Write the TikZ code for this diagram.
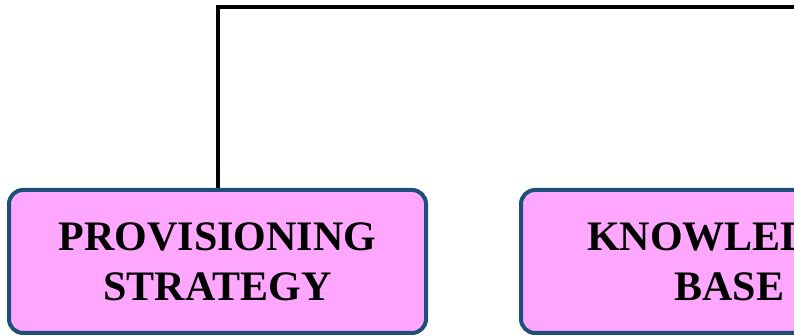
\documentclass[tikz,border=0pt]{standalone}
\usepackage{fontspec}
\setmainfont{Liberation Serif}
\definecolor{boxfill}{HTML}{FFA6FF}
\definecolor{boxline}{HTML}{1F4E7A}
\begin{document}
\begin{tikzpicture}[x=1pt,y=1pt,
  blockbox/.style={draw=boxline, fill=boxfill, line width=4pt, rounded corners=14pt,
    minimum width=417pt, minimum height=143pt, inner sep=0pt, align=center,
    font=\fontsize{42}{50}\selectfont\bfseries, text=black},
  link/.style={draw=black, line width=4pt}]
\useasboundingbox (0,0) rectangle (794,336);
\clip (0,0) rectangle (794,336);
\node[blockbox] (n1) at (217.5,74.5) {PROVISIONING\\STRATEGY};
\node[blockbox] (n2) at (729.5,74.5) {KNOWLEDGE\\BASE};
\coordinate (c) at (810,329);
\draw[link] (n1.north) |- (c);
\end{tikzpicture}
\end{document}
